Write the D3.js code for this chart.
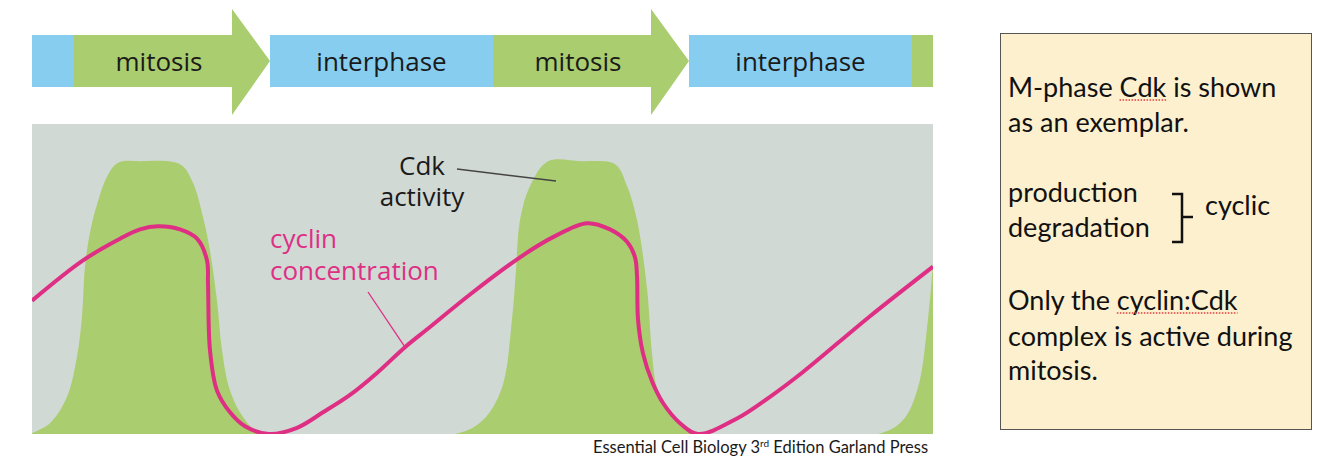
<!DOCTYPE html>
<html>
<head>
<meta charset="utf-8">
<script src="https://cdn.jsdelivr.net/npm/d3@7"></script>
<style>
  body { margin: 0; background: #fff; }
  svg { display: block; }
  .fig { font-family: "Open Sans", sans-serif; }
  .note { font-family: Lato, sans-serif; }
</style>
</head>
<body>
<svg id="chart" width="1334" height="463"></svg>
<script>
// cell cycle phases along the time axis (arbitrary time units)
const phaseNames = ["interphase", "mitosis", "interphase", "mitosis", "interphase", "mitosis"];
const phaseStart = [0, 42, 238, 461, 657, 880];
const phaseEnd   = [42, 238, 461, 657, 880, 901];

// Cdk activity (% of max)
const cdkTime  = [0, 18, 35, 45, 50, 53, 58, 65, 75, 86, 108, 148, 161, 171, 178, 185, 190, 198, 211, 228,
                  423, 451, 470, 480, 484, 488, 498, 516, 549, 583, 595, 605, 615, 620, 625, 638, 665,
                  846, 871, 886, 896, 901];
const cdkLevel = [0.3, 3.5, 12, 25, 38, 54, 65, 74, 83, 87.5, 88, 87, 81, 70, 59, 43, 27, 14, 5.5, 0.6,
                  0, 4.5, 15, 37, 53, 69, 80, 88, 88, 87, 80, 69, 47, 26, 15, 7, 0,
                  0, 4.5, 15, 37, 55];

// cyclin concentration (% of max)
const cyclinTime  = [0, 51, 88, 108, 126, 148, 165, 175, 176, 178, 185, 198, 213, 237,
                     265, 291, 318, 345, 373, 398, 438, 488, 521, 555, 578, 595, 603, 605, 606, 611, 620,
                     631, 648, 666, 705, 738, 771, 838, 901];
const cyclinLevel = [43, 56, 63, 66, 67, 66, 63, 56, 48.7, 27, 14, 7, 2.5, 0,
                     2, 7, 12.6, 19.7, 28, 34.5, 45, 57, 63.5, 68, 66, 62, 57, 51, 37, 26, 17,
                     10, 3.5, 0, 5, 12, 20, 38, 54];

const noteLines = ["M-phase Cdk is shown", "as an exemplar.", "production", "degradation",
                   "Only the cyclin:Cdk", "complex is active during", "mitosis."];
const noteBaselines = [97, 132, 202, 237, 310, 346, 380];
const noteFlagged = ["Cdk", null, null, null, "cyclin:Cdk", null, null];

const blue = "#87cdf0", green = "#aacd6f", gray = "#d1d9d4", pink = "#de2f84";

const svg = d3.select("#chart");
const x = d3.scaleLinear().domain([0, 901]).range([32, 933]);
const y = d3.scaleLinear().domain([0, 100]).range([434, 124]);

// ---- phase bar ----
const barTop = 35, barBot = 87, headTop = 9, headBot = 115, headLen = 38;
const phases = phaseNames.map((n, i) => ({name: n, s: phaseStart[i], e: phaseEnd[i]}));
const bar = svg.append("g").attr("class", "fig");

bar.selectAll("path.phase").data(phases).join("path")
  .attr("class", "phase")
  .attr("fill", d => d.name === "mitosis" ? green : blue)
  .attr("d", d => {
    const x0 = x(d.s), x1 = x(d.e);
    if (d.name === "mitosis" && d.e < 901) {
      const hx = x1 - headLen, mid = (barTop + barBot) / 2;
      return `M${x0},${barTop}H${hx}V${headTop}L${x1},${mid}L${hx},${headBot}V${barBot}H${x0}Z`;
    }
    return `M${x0},${barTop}H${x1}V${barBot}H${x0}Z`;
  });

bar.selectAll("text").data(phases.filter(d => d.e - d.s > 100)).join("text")
  .attr("x", d => d.name === "mitosis" ? (x(d.s) + x(d.e) - headLen) / 2 + 6 : (x(d.s) + x(d.e)) / 2)
  .attr("y", 71)
  .attr("text-anchor", "middle")
  .attr("font-size", 26)
  .attr("fill", "#1a1a1a")
  .text(d => d.name);

// ---- curves panel ----
svg.append("clipPath").attr("id", "panel")
  .append("rect").attr("x", x(0)).attr("y", y(100)).attr("width", x(901) - x(0)).attr("height", y(0) - y(100));

svg.append("rect")
  .attr("x", x(0)).attr("y", y(100)).attr("width", x(901) - x(0)).attr("height", y(0) - y(100))
  .attr("fill", gray);

const plot = svg.append("g").attr("clip-path", "url(#panel)");

const cdk = cdkTime.map((t, i) => [t, cdkLevel[i]]);
const area = d3.area().x(d => x(d[0])).y0(y(0)).y1(d => y(d[1])).curve(d3.curveCatmullRom.alpha(0.5));
plot.append("path").datum(cdk).attr("d", area).attr("fill", green);

const cyc = cyclinTime.map((t, i) => [t, cyclinLevel[i]]);
const line = d3.line().x(d => x(d[0])).y(d => y(d[1])).curve(d3.curveCatmullRom.alpha(0.5));
plot.append("path").datum(cyc).attr("d", line)
  .attr("fill", "none").attr("stroke", pink).attr("stroke-width", 4).attr("stroke-linejoin", "round");

// labels
const lab = svg.append("g").attr("class", "fig").attr("font-size", 26);
lab.append("line").attr("x1", 457).attr("y1", 169).attr("x2", 556).attr("y2", 181)
  .attr("stroke", "#444").attr("stroke-width", 1.5);
lab.append("text").attr("x", 422).attr("y", 175).attr("text-anchor", "middle").attr("fill", "#1a1a1a").text("Cdk");
lab.append("text").attr("x", 422).attr("y", 206).attr("text-anchor", "middle").attr("fill", "#1a1a1a").text("activity");

lab.append("line").attr("x1", 368).attr("y1", 292).attr("x2", x(373)).attr("y2", y(28))
  .attr("stroke", pink).attr("stroke-width", 1.3);
lab.append("text").attr("x", 270).attr("y", 248).attr("fill", pink).text("cyclin");
lab.append("text").attr("x", 270).attr("y", 280).attr("fill", pink).text("concentration");

// caption
const cap = svg.append("text").attr("class", "note").attr("x", 593).attr("y", 453)
  .attr("font-size", 16.5).attr("fill", "#1a1a1a");
cap.append("tspan").text("Essential Cell Biology 3");
cap.append("tspan").attr("font-size", 10).attr("dy", -6).text("rd");
cap.append("tspan").attr("dy", 6).text(" Edition Garland Press");

// ---- note box ----
const note = svg.append("g").attr("class", "note");
note.append("rect").attr("x", 1000.5).attr("y", 33.5).attr("width", 311).attr("height", 396)
  .attr("fill", "#fcf0cf").attr("stroke", "#555").attr("stroke-width", 1);

noteLines.forEach((s, i) => {
  const t = note.append("text").attr("x", 1008).attr("y", noteBaselines[i])
    .attr("font-size", 27).attr("fill", "#111").text(s);
  const w = noteFlagged[i];
  if (w) {
    const k = s.indexOf(w);
    const node = t.node();
    const x0 = node.getStartPositionOfChar(k).x;
    const x1 = node.getEndPositionOfChar(k + w.length - 1).x;
    note.append("line").attr("x1", x0).attr("x2", x1)
      .attr("y1", noteBaselines[i] + 3).attr("y2", noteBaselines[i] + 3)
      .attr("stroke", "#e23b3b").attr("stroke-width", 1.5).attr("stroke-dasharray", "1.5,1.5");
  }
});

note.append("path")
  .attr("d", "M1172,194H1182V242H1172M1182,217H1193")
  .attr("fill", "none").attr("stroke", "#111").attr("stroke-width", 2.5);
note.append("text").attr("x", 1205).attr("y", 215).attr("font-size", 27).attr("fill", "#111").text("cyclic");
</script>
</body>
</html>
